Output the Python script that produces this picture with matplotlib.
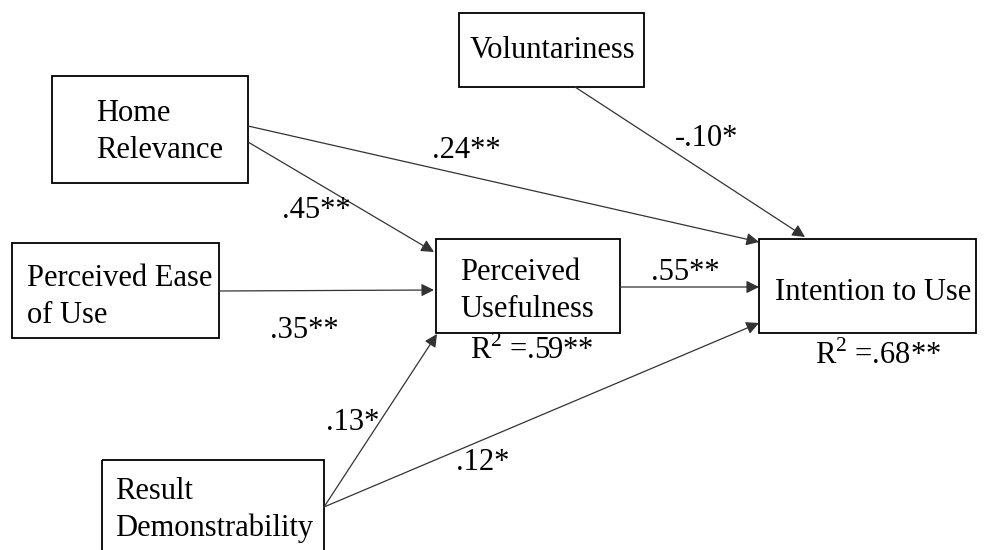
import matplotlib
matplotlib.use("Agg")
import matplotlib.pyplot as plt
from matplotlib.patches import Rectangle

plt.rcParams["mathtext.fontset"] = "custom"
plt.rcParams["mathtext.rm"] = "Liberation Serif"

# node texts
nodes = ["Home\nRelevance", "Voluntariness", "Perceived Ease\nof Use",
         "Perceived\nUsefulness", "Intention to Use", "Result\nDemonstrability"]
# path coefficients (source, target, label)
paths = [("Home\nRelevance", "Intention to Use", ".24**"),
         ("Home\nRelevance", "Perceived\nUsefulness", ".45**"),
         ("Perceived Ease\nof Use", "Perceived\nUsefulness", ".35**"),
         ("Voluntariness", "Intention to Use", "-.10*"),
         ("Perceived\nUsefulness", "Intention to Use", ".55**"),
         ("Result\nDemonstrability", "Perceived\nUsefulness", ".13*"),
         ("Result\nDemonstrability", "Intention to Use", ".12*")]
r2_labels = {"Perceived\nUsefulness": r"R$^{\mathrm{2}}$ =.59**",
             "Intention to Use": r"R$^{\mathrm{2}}$ =.68**"}

# layout in pixels (x0, y0, x1, y1), text anchor
boxes = {
    "Home\nRelevance": ((52, 76, 248, 183), (96, 132)),
    "Voluntariness": ((459, 13, 644, 87), (470, 50)),
    "Perceived Ease\nof Use": ((12, 243, 219, 338), (27, 297)),
    "Perceived\nUsefulness": ((436, 239, 620, 333), (460, 291)),
    "Intention to Use": ((759, 239, 976, 333), (775, 292)),
    "Result\nDemonstrability": ((102, 460, 324, 560), (115, 510)),
}
arrows = [((248, 126), (759, 242)), ((248, 142), (434, 252)),
          ((219, 291), (434, 290)), ((575, 87), (805, 237)),
          ((620, 287), (759, 287)), ((324, 507), (437, 334)),
          ((324, 507), (759, 323))]
label_pos = [(432, 150), (282, 210), (270, 330), (675, 138),
             (651, 272), (326, 422), (456, 462)]
r2_pos = {"Perceived\nUsefulness": (470, 351), "Intention to Use": (815, 356)}

FONT = "Liberation Serif"
FS = 22

fig = plt.figure(figsize=(9.84, 5.5), dpi=100)
ax = fig.add_axes([0, 0, 1, 1])
ax.set_xlim(0, 984)
ax.set_ylim(550, 0)
ax.axis("off")

for name in nodes:
    (x0, y0, x1, y1), (tx, ty) = boxes[name]
    ax.add_patch(Rectangle((x0, y0), x1 - x0, y1 - y0, fill=False,
                           edgecolor="black", linewidth=1.3))
    ax.text(tx, ty, name, ha="left", va="center", fontsize=FS,
            family=FONT, linespacing=1.35)

for (src, dst, lab), (p0, p1), (lx, ly) in zip(paths, arrows, label_pos):
    ax.annotate("", xy=p1, xytext=p0,
                arrowprops=dict(arrowstyle="-|>", color="#333333", lw=0.9,
                                mutation_scale=19, shrinkA=0, shrinkB=0))
    ax.text(lx, ly, lab, ha="left", va="center", fontsize=FS, family=FONT)

for name, lab in r2_labels.items():
    x, y = r2_pos[name]
    ax.text(x, y, lab, ha="left", va="center", fontsize=FS, family=FONT)

fig.savefig("out.png", dpi=100)
